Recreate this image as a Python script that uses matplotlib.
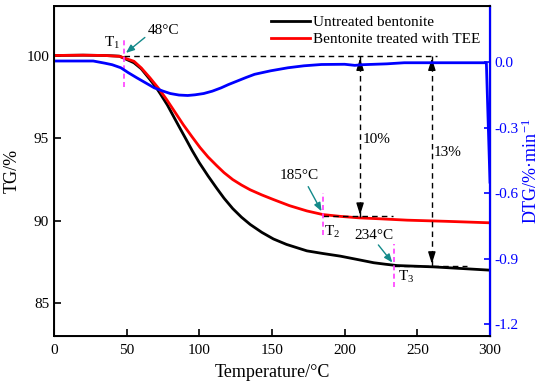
import numpy as np
import matplotlib
matplotlib.use('Agg')
import matplotlib.pyplot as plt

plt.rcParams['font.family'] = ['Liberation Serif', 'DejaVu Serif']
plt.rcParams['mathtext.fontset'] = 'custom'
plt.rcParams['mathtext.rm'] = 'Liberation Serif'
plt.rcParams['mathtext.it'] = 'Liberation Serif'

# TG of untreated bentonite (%)
temp_untreated = [0, 20, 35, 45, 55, 60, 66, 70, 73, 78, 82, 86, 91, 95, 100, 106, 112, 117, 123, 129,
                  135, 143, 151, 160, 174, 185, 197, 208, 220, 228, 236, 261, 300]
tg_untreated = [100.0, 100.02, 100.0, 99.96, 99.56, 99.2, 98.55, 98.1, 97.7, 97.0, 96.35, 95.7, 94.9,
                94.25, 93.5, 92.7, 91.95, 91.35, 90.72, 90.2, 89.76, 89.28, 88.88, 88.55, 88.16, 88.0,
                87.84, 87.65, 87.44, 87.35, 87.27, 87.19, 86.99]

# TG of bentonite treated with TEE (%)
temp_treated = [0, 20, 35, 45, 55, 60, 66, 72, 77.5, 83, 89, 95, 100.5, 106, 112, 117, 123, 129, 135,
                143, 151, 162, 174, 185, 197, 210, 225, 243, 270, 300]
tg_treated = [100.0, 100.02, 100.0, 99.95, 99.65, 99.25, 98.65, 98.0, 97.33, 96.6, 95.8, 95.07, 94.42,
              93.85, 93.32, 92.9, 92.48, 92.15, 91.86, 91.55, 91.27, 90.9, 90.58, 90.36, 90.25, 90.16,
              90.1, 90.02, 89.95, 89.86]

# DTG curve (%/min)
temp_dtg = [0, 27, 35, 40, 46, 51, 57, 63, 69, 75, 80, 86, 92, 97, 103, 109, 115, 120, 126, 132, 138,
            149, 161, 172, 184, 200, 207, 212, 229, 241, 252, 275, 297.5, 300]
dtg = [0.005, 0.005, -0.005, -0.012, -0.026, -0.048, -0.072, -0.095, -0.118, -0.133, -0.144, -0.151,
       -0.153, -0.15, -0.144, -0.133, -0.118, -0.103, -0.087, -0.071, -0.056, -0.04, -0.026, -0.017,
       -0.011, -0.01, -0.015, -0.012, -0.008, -0.003, -0.003, -0.003, -0.003, -0.55]

# onset points (T1, T2, T3)
onset_temp = [48, 185, 234]
onset_tg = [100.0, 90.36, 87.27]
onset_label = ['48°C', '185°C', '234°C']

# mass loss arrows
loss_temp = [210.6, 260]
loss_low = [90.16, 87.2]
loss_label = ['10%', '13%']

teal = '#138a8a'
pink = '#ff3cff'

fig = plt.figure(figsize=(5.5, 3.88), dpi=100)
ax = fig.add_axes([54/550, 52/388, 436/550, 330/388])
ax2 = ax.twinx()

l1, = ax.plot(temp_untreated, tg_untreated, color='black', lw=2.0, label='Untreated bentonite')
l2, = ax.plot(temp_treated, tg_treated, color='#ff0000', lw=2.0, label='Bentonite treated with TEE')
ax2.plot(temp_dtg, dtg, color='#0000ff', lw=2.0)

ax.set_xlim(0, 300)
ax.set_ylim(83, 103)
ax2.set_ylim(-1.255, 0.257)
ax.set_xticks([0, 50, 100, 150, 200, 250, 300])
ax.set_yticks([85, 90, 95, 100])
ax2.set_yticks([0.0, -0.3, -0.6, -0.9, -1.2])
ax2.set_yticklabels(['0.0', '-0.3', '-0.6', '-0.9', '-1.2'])

ax.tick_params(axis='both', direction='in', length=5, width=1.2, labelsize=11, top=False, right=False)
ax.tick_params(axis='x', pad=6)
ax2.tick_params(axis='y', direction='in', length=4, width=1.2, labelsize=11, colors='#0000ff')
for s in ['left', 'bottom', 'top']:
    ax2.spines[s].set_linewidth(1.4)
ax2.spines['right'].set_color('#0000ff')
ax2.spines['right'].set_linewidth(1.6)

ax.set_xlabel('Temperature/°C', fontsize=13, labelpad=5)
ax.set_ylabel('TG/%', fontsize=13, labelpad=4)
ax2.set_ylabel('DTG/%·min$^{-1}$', fontsize=13, color='#0000ff', labelpad=2)

# reference dashed lines
ax.plot([onset_temp[0], 263.5], [100.0, 100.0], color='black', lw=1, dashes=(4, 3))
ax.plot([onset_temp[1], 233], [90.25, 90.25], color='black', lw=1, dashes=(4, 3))
ax.plot([onset_temp[2], 284], [87.22, 87.22], color='black', lw=1, dashes=(4, 3))

# magenta markers at onset temperatures
ax.plot([onset_temp[0]] * 2, [98.1, 101.1], color=pink, lw=1.2, dashes=(3, 2))
ax.plot([onset_temp[1]] * 2, [89.15, 91.68], color=pink, lw=1.2, dashes=(3, 2))
ax.plot([onset_temp[2]] * 2, [86.0, 88.55], color=pink, lw=1.2, dashes=(3, 2))

ax.text(40, 100.75, 'T$_1$', fontsize=11, ha='center', va='center')
ax.text(186, 89.3, 'T$_2$', fontsize=11, ha='left', va='center')
ax.text(237, 86.55, 'T$_3$', fontsize=11, ha='left', va='center')

# temperature annotations with teal arrows
text_pos = [(75, 101.5), (168.5, 92.7), (220, 89.1)]
tail_pos = [(64, 101.2), (174, 92.2), (222, 88.65)]
for t, y, lab, tp, tl in zip(onset_temp, onset_tg, onset_label, text_pos, tail_pos):
    ax.text(tp[0], tp[1], lab, fontsize=11, ha='center', va='center')
    ax.annotate('', xy=(t, y + 0.05), xytext=tl,
                arrowprops=dict(arrowstyle='-|>,head_length=0.5,head_width=0.2', color=teal, lw=1))

# mass loss double arrows
for x, low, lab, ty in zip(loss_temp, loss_low, loss_label, [94.9, 94.1]):
    ax.plot([x, x], [100.0, low], color='black', lw=1, dashes=(4, 3))
    ax.annotate('', xy=(x, 100.0), xytext=(x, 99.0),
                arrowprops=dict(arrowstyle='-|>,head_length=0.7,head_width=0.22', color='black', lw=1))
    ax.annotate('', xy=(x, low), xytext=(x, low + 1.0),
                arrowprops=dict(arrowstyle='-|>,head_length=0.7,head_width=0.22', color='black', lw=1))
    ax.text(x + 1.5, ty, lab, fontsize=11, ha='left', va='center')

ax2.legend(handles=[l1, l2], loc='upper right', frameon=False, fontsize=11, handlelength=2.6,
           handletextpad=0.2, labelspacing=0.25, borderaxespad=0.2)

fig.savefig('out.png', dpi=100)
